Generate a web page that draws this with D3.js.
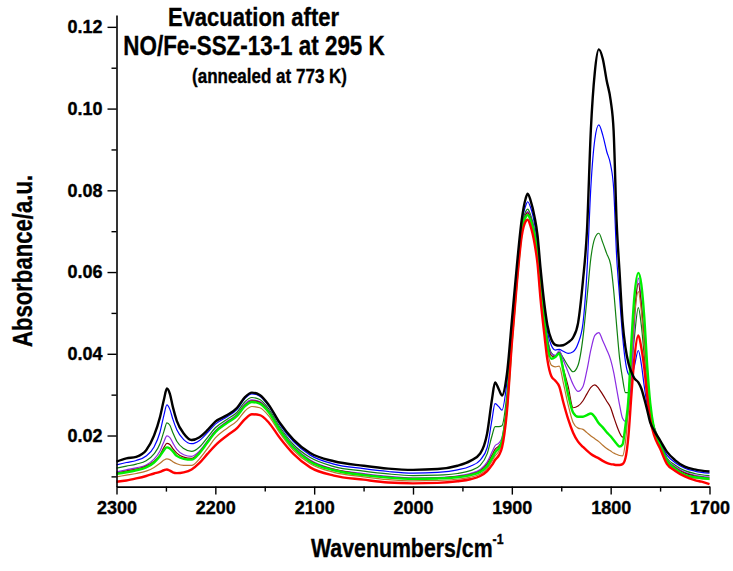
<!DOCTYPE html>
<html>
<head>
<meta charset="utf-8">
<script src="https://cdn.jsdelivr.net/npm/d3@7"></script>
<style>
  html, body { margin: 0; padding: 0; background: #fff; }
  svg { display: block; }
  text { font-family: "Liberation Sans", Arial, Helvetica, sans-serif; font-weight: bold; fill: #000; stroke: #000; stroke-width: 0.35px; }
</style>
</head>
<body>
<svg id="chart" width="733" height="571"></svg>
<script>
// Wavenumber grid (cm-1) shared by every spectrum
const wavenumbers = [
  2300, 2290, 2280, 2270, 2262, 2256, 2252, 2249, 2246, 2243, 2239, 2232, 2224,
  2216, 2208, 2200, 2188, 2178, 2170, 2163, 2155, 2146, 2135, 2121, 2104,
  2080, 2050, 2025, 2000, 1975, 1955, 1942, 1932,
  1925, 1920, 1917, 1913, 1910, 1905, 1900,
  1895, 1890, 1886, 1884, 1881, 1877, 1874, 1871, 1867, 1864,
  1860, 1856, 1852, 1848, 1843, 1838, 1833, 1828,
  1824, 1820, 1816, 1812, 1808, 1804, 1800,
  1797, 1794, 1791, 1788, 1785, 1782, 1779, 1776,
  1772, 1769, 1766, 1763, 1760, 1756, 1750,
  1743, 1735, 1725, 1715, 1708, 1700
];

// Absorbance of each evacuation spectrum on that grid
const absBlack = [
  0.0136, 0.0144, 0.0148, 0.0164, 0.0200, 0.0245, 0.0288, 0.0315, 0.0302, 0.0270, 0.0236, 0.0205, 0.0189,
  0.0196, 0.0213, 0.0234, 0.0250, 0.0268, 0.0294, 0.0305, 0.0299, 0.0275, 0.0232, 0.0190, 0.0157,
  0.0137, 0.0126, 0.0119, 0.0116, 0.0118, 0.0126, 0.0138, 0.0156,
  0.0205, 0.0290, 0.0330, 0.0312, 0.0298, 0.0350, 0.0480,
  0.0613, 0.0728, 0.0780, 0.0792, 0.0775, 0.0735, 0.0690, 0.0610, 0.0520, 0.0470,
  0.0435, 0.0422, 0.0420, 0.0421, 0.0428, 0.0440, 0.0475, 0.0580,
  0.0700, 0.0950, 0.1090, 0.1145, 0.1122, 0.1068, 0.1020,
  0.0945, 0.0725, 0.0600, 0.0480, 0.0415, 0.0377, 0.0355, 0.0340,
  0.0330, 0.0315, 0.0290, 0.0262, 0.0232, 0.0212, 0.0188,
  0.0160, 0.0140, 0.0124, 0.0117, 0.0114, 0.0112
];
const absBlue = [
  0.0128, 0.0134, 0.0139, 0.0150, 0.0172, 0.0208, 0.0250, 0.0275, 0.0264, 0.0240, 0.0214, 0.0190, 0.0180,
  0.0188, 0.0207, 0.0228, 0.0246, 0.0264, 0.0291, 0.0302, 0.0296, 0.0272, 0.0228, 0.0185, 0.0152,
  0.0130, 0.0119, 0.0112, 0.0108, 0.0110, 0.0116, 0.0125, 0.0140,
  0.0170, 0.0240, 0.0278, 0.0270, 0.0262, 0.0330, 0.0465,
  0.0600, 0.0720, 0.0762, 0.0772, 0.0758, 0.0718, 0.0670, 0.0590, 0.0510, 0.0455,
  0.0420, 0.0409, 0.0411, 0.0406, 0.0401, 0.0405, 0.0425, 0.0475,
  0.0600, 0.0810, 0.0925, 0.0960, 0.0935, 0.0895, 0.0862,
  0.0805, 0.0640, 0.0540, 0.0445, 0.0380, 0.0350, 0.0345, 0.0370,
  0.0408, 0.0375, 0.0320, 0.0275, 0.0245, 0.0215, 0.0182,
  0.0152, 0.0134, 0.0120, 0.0113, 0.0110, 0.0108
];
const absDarkGreen = [
  0.0120, 0.0125, 0.0130, 0.0138, 0.0155, 0.0180, 0.0210, 0.0231, 0.0225, 0.0207, 0.0186, 0.0168, 0.0161,
  0.0172, 0.0195, 0.0219, 0.0240, 0.0257, 0.0283, 0.0293, 0.0288, 0.0265, 0.0222, 0.0178, 0.0146,
  0.0124, 0.0113, 0.0106, 0.0102, 0.0103, 0.0107, 0.0114, 0.0127,
  0.0155, 0.0200, 0.0222, 0.0222, 0.0224, 0.0300, 0.0450,
  0.0590, 0.0710, 0.0748, 0.0754, 0.0740, 0.0703, 0.0655, 0.0572, 0.0495, 0.0440,
  0.0402, 0.0395, 0.0404, 0.0390, 0.0370, 0.0356, 0.0372, 0.0440,
  0.0535, 0.0635, 0.0683, 0.0695, 0.0672, 0.0645, 0.0618,
  0.0556, 0.0470, 0.0390, 0.0340, 0.0305, 0.0305, 0.0365, 0.0440,
  0.0513, 0.0470, 0.0395, 0.0320, 0.0260, 0.0222, 0.0185,
  0.0145, 0.0128, 0.0114, 0.0107, 0.0104, 0.0102
];
const absPurple = [
  0.0111, 0.0116, 0.0121, 0.0128, 0.0142, 0.0162, 0.0185, 0.0199, 0.0195, 0.0182, 0.0166, 0.0153, 0.0149,
  0.0162, 0.0187, 0.0212, 0.0235, 0.0252, 0.0278, 0.0287, 0.0283, 0.0261, 0.0218, 0.0174, 0.0140,
  0.0118, 0.0107, 0.0100, 0.0096, 0.0097, 0.0101, 0.0107, 0.0117,
  0.0135, 0.0160, 0.0175, 0.0182, 0.0195, 0.0280, 0.0440,
  0.0585, 0.0705, 0.0742, 0.0748, 0.0735, 0.0697, 0.0650, 0.0565, 0.0490, 0.0435,
  0.0400, 0.0396, 0.0408, 0.0385, 0.0355, 0.0325, 0.0308, 0.0320,
  0.0360, 0.0410, 0.0445, 0.0452, 0.0432, 0.0410, 0.0385,
  0.0355, 0.0315, 0.0275, 0.0242, 0.0234, 0.0260, 0.0340, 0.0470,
  0.0585, 0.0530, 0.0440, 0.0345, 0.0265, 0.0220, 0.0182,
  0.0142, 0.0124, 0.0110, 0.0103, 0.0100, 0.0098
];
const absMaroon = [
  0.0108, 0.0113, 0.0118, 0.0125, 0.0137, 0.0153, 0.0171, 0.0181, 0.0178, 0.0168, 0.0157, 0.0147, 0.0144,
  0.0159, 0.0185, 0.0210, 0.0233, 0.0250, 0.0275, 0.0285, 0.0281, 0.0259, 0.0216, 0.0172, 0.0138,
  0.0117, 0.0105, 0.0098, 0.0095, 0.0096, 0.0100, 0.0105, 0.0114,
  0.0130, 0.0152, 0.0166, 0.0175, 0.0188, 0.0275, 0.0437,
  0.0583, 0.0702, 0.0740, 0.0745, 0.0732, 0.0694, 0.0647, 0.0562, 0.0486, 0.0430,
  0.0395, 0.0392, 0.0402, 0.0365, 0.0320, 0.0268, 0.0272, 0.0285,
  0.0302, 0.0318, 0.0324, 0.0315, 0.0300, 0.0284, 0.0268,
  0.0246, 0.0225, 0.0207, 0.0196, 0.0215, 0.0290, 0.0400, 0.0500,
  0.0572, 0.0520, 0.0430, 0.0340, 0.0262, 0.0216, 0.0179,
  0.0140, 0.0122, 0.0108, 0.0101, 0.0098, 0.0096
];
const absGreen = [
  0.0106, 0.0110, 0.0115, 0.0122, 0.0134, 0.0150, 0.0164, 0.0171, 0.0168, 0.0161, 0.0150, 0.0143, 0.0141,
  0.0157, 0.0183, 0.0208, 0.0231, 0.0248, 0.0272, 0.0282, 0.0278, 0.0257, 0.0214, 0.0170, 0.0136,
  0.0115, 0.0103, 0.0097, 0.0094, 0.0095, 0.0098, 0.0103, 0.0111,
  0.0125, 0.0145, 0.0158, 0.0170, 0.0185, 0.0270, 0.0435,
  0.0580, 0.0698, 0.0735, 0.0740, 0.0727, 0.0690, 0.0642, 0.0555, 0.0478, 0.0420,
  0.0388, 0.0392, 0.0401, 0.0360, 0.0300, 0.0256, 0.0246, 0.0246,
  0.0250, 0.0254, 0.0245, 0.0230, 0.0220, 0.0208, 0.0198,
  0.0189, 0.0180, 0.0173, 0.0178, 0.0225, 0.0290, 0.0430, 0.0540,
  0.0598, 0.0570, 0.0490, 0.0370, 0.0280, 0.0215, 0.0177,
  0.0138, 0.0119, 0.0104, 0.0098, 0.0096, 0.0094
];
const absTan = [
  0.0099, 0.0103, 0.0107, 0.0113, 0.0122, 0.0132, 0.0140, 0.0143, 0.0141, 0.0136, 0.0131, 0.0127, 0.0127,
  0.0143, 0.0168, 0.0194, 0.0218, 0.0236, 0.0260, 0.0271, 0.0268, 0.0248, 0.0207, 0.0164, 0.0131,
  0.0110, 0.0099, 0.0092, 0.0089, 0.0090, 0.0093, 0.0098, 0.0106,
  0.0119, 0.0138, 0.0150, 0.0162, 0.0180, 0.0265, 0.0430,
  0.0577, 0.0695, 0.0733, 0.0738, 0.0725, 0.0688, 0.0640, 0.0550, 0.0470, 0.0410,
  0.0372, 0.0368, 0.0370, 0.0330, 0.0275, 0.0232, 0.0218, 0.0215,
  0.0207, 0.0199, 0.0192, 0.0185, 0.0176, 0.0168, 0.0162,
  0.0157, 0.0154, 0.0151, 0.0150, 0.0185, 0.0270, 0.0390, 0.0490,
  0.0552, 0.0505, 0.0420, 0.0335, 0.0262, 0.0207, 0.0170,
  0.0135, 0.0116, 0.0101, 0.0096, 0.0094, 0.0092
];
const absRed = [
  0.0087, 0.0090, 0.0095, 0.0101, 0.0107, 0.0111, 0.0115, 0.0117, 0.0114, 0.0110, 0.0108, 0.0110, 0.0117,
  0.0133, 0.0155, 0.0176, 0.0200, 0.0218, 0.0240, 0.0252, 0.0250, 0.0232, 0.0195, 0.0155, 0.0122,
  0.0102, 0.0092, 0.0085, 0.0083, 0.0084, 0.0088, 0.0093, 0.0101,
  0.0113, 0.0128, 0.0140, 0.0152, 0.0170, 0.0258, 0.0425,
  0.0570, 0.0688, 0.0724, 0.0728, 0.0712, 0.0670, 0.0620, 0.0535, 0.0445, 0.0385,
  0.0345, 0.0334, 0.0320, 0.0282, 0.0240, 0.0207, 0.0185, 0.0172,
  0.0163, 0.0155, 0.0149, 0.0144, 0.0138, 0.0133, 0.0130,
  0.0129, 0.0128, 0.0128, 0.0130, 0.0145, 0.0200, 0.0300, 0.0390,
  0.0445, 0.0415, 0.0365, 0.0295, 0.0240, 0.0200, 0.0168,
  0.0130, 0.0114, 0.0100, 0.0091, 0.0087, 0.0081
];

// Axis ticks
const xMajorTicks = [2300, 2200, 2100, 2000, 1900, 1800, 1700];
const xMinorTicks = [2250, 2150, 2050, 1950, 1850, 1750];
const yMajorTicks = [0.02, 0.04, 0.06, 0.08, 0.10, 0.12];
const yMinorTicks = [0.01, 0.03, 0.05, 0.07, 0.09, 0.11];

// Drawing order: thin traces first, heavy traces on top
const spectra = [
  { values: absBlue,      color: "#0000ff", width: 1.2 },
  { values: absDarkGreen, color: "#108010", width: 1.2 },
  { values: absPurple,    color: "#8a2be2", width: 1.2 },
  { values: absMaroon,    color: "#800000", width: 1.2 },
  { values: absTan,       color: "#b8742e", width: 1.2 },
  { values: absGreen,     color: "#00ee00", width: 2.4 },
  { values: absRed,       color: "#ff0000", width: 2.4 },
  { values: absBlack,     color: "#000000", width: 2.4 }
];

const svg = d3.select("#chart");

const x = d3.scaleLinear().domain([2300, 1700]).range([116.5, 709.5]);
const y = d3.scaleLinear().domain([0.0075, 0.1229]).range([486.6, 15]);

const line = d3.line()
  .x(d => x(d[0]))
  .y(d => y(d[1]))
  .curve(d3.curveMonotoneX);

const plot = svg.append("g");
spectra.forEach(s => {
  plot.append("path")
    .datum(wavenumbers.map((w, i) => [w, s.values[i]]))
    .attr("fill", "none")
    .attr("stroke", s.color)
    .attr("stroke-width", s.width)
    .attr("stroke-linejoin", "round")
    .attr("d", line);
});

// Bottom axis
const xAxisG = svg.append("g").attr("transform", `translate(0,${y.range()[0]})`);
xAxisG.call(d3.axisBottom(x).tickValues(xMajorTicks).tickSize(8).tickSizeOuter(0).tickPadding(7).tickFormat(d3.format("d")));
xAxisG.append("g").call(d3.axisBottom(x).tickValues(xMinorTicks).tickSize(5).tickSizeOuter(0).tickFormat(""))
  .select(".domain").remove();

// Left axis
const yAxisG = svg.append("g").attr("transform", `translate(${x.range()[0]},0)`);
yAxisG.call(d3.axisLeft(y).tickValues(yMajorTicks).tickSize(9).tickSizeOuter(0).tickPadding(5).tickFormat(d3.format(".2f")));
yAxisG.append("g").call(d3.axisLeft(y).tickValues(yMinorTicks).tickSize(5).tickSizeOuter(0).tickFormat(""))
  .select(".domain").remove();

svg.selectAll(".domain").attr("stroke", "#000").attr("stroke-width", 1.6);
svg.selectAll(".tick line").attr("stroke", "#000").attr("stroke-width", 1.4);
svg.selectAll(".tick text")
  .attr("font-family", "'Liberation Sans', Arial, sans-serif")
  .attr("font-weight", "bold")
  .attr("font-size", 18)
  .attr("fill", "#000");

// Axis titles (narrowed bold face via horizontal scaling)
svg.append("text")
  .attr("transform", "translate(31.5,261) rotate(-90) scale(0.82,1)")
  .attr("text-anchor", "middle")
  .attr("font-size", 27)
  .text("Absorbance/a.u.");

const xTitle = svg.append("text")
  .attr("transform", "translate(311,557) scale(0.82,1)")
  .attr("font-size", 26);
xTitle.append("tspan").text("Wavenumbers/cm");
xTitle.append("tspan").attr("font-size", 15).attr("dy", -13).text("-1");

// Title block
svg.append("text")
  .attr("transform", "translate(253.5,26) scale(0.83,1)")
  .attr("text-anchor", "middle")
  .attr("font-size", 26.5)
  .text("Evacuation after");
svg.append("text")
  .attr("transform", "translate(254,55) scale(0.83,1)")
  .attr("text-anchor", "middle")
  .attr("font-size", 27)
  .text("NO/Fe-SSZ-13-1 at 295 K");
svg.append("text")
  .attr("transform", "translate(269.5,83) scale(0.83,1)")
  .attr("text-anchor", "middle")
  .attr("font-size", 20.5)
  .text("(annealed at 773 K)");
</script>
</body>
</html>
